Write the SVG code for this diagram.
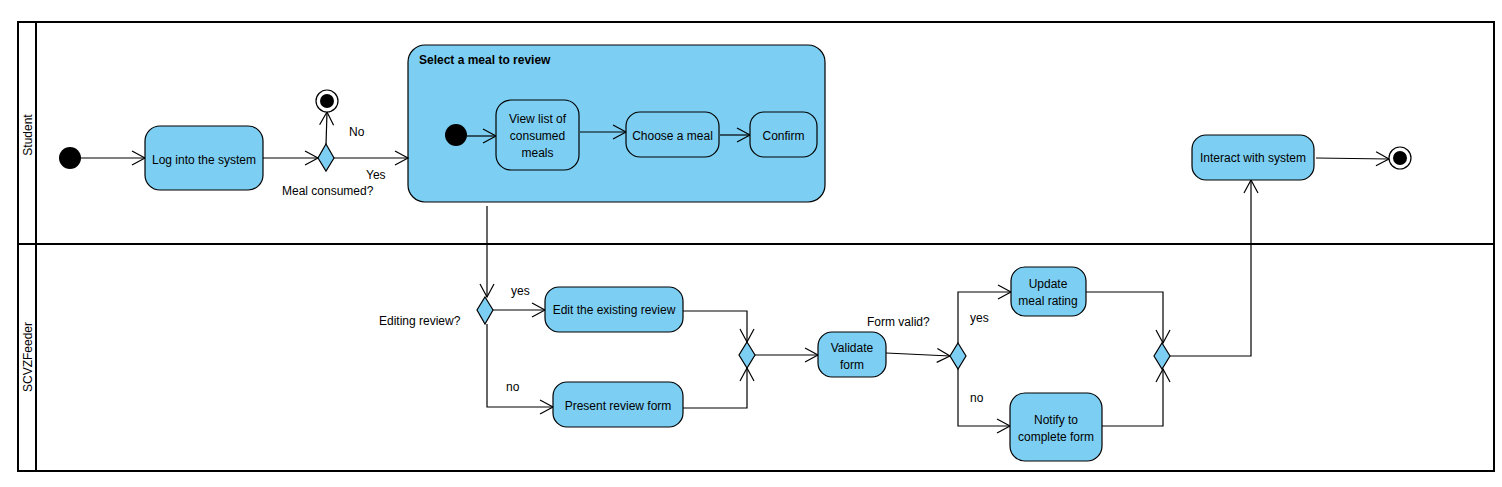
<svg xmlns="http://www.w3.org/2000/svg" width="1502" height="487" viewBox="0 0 1502 487">
<style>
.n{fill:#7ccff3;stroke:#000;stroke-width:1.2}
.t{font-family:"Liberation Sans",Arial,sans-serif;font-size:12px;fill:#000}
.c{text-anchor:middle}
.b{font-weight:bold}
.e{fill:none;stroke:#000;stroke-width:1.2}
.lane{fill:none;stroke:#000;stroke-width:2}
</style>
<defs>
<marker id="a" markerUnits="userSpaceOnUse" markerWidth="16" markerHeight="16" refX="13" refY="7" orient="auto" overflow="visible">
<path d="M0,0 L13,7 L0,14" fill="none" stroke="#000" stroke-width="1.2"/>
</marker>
</defs>
<rect width="1502" height="487" fill="#fff"/>
<g id="lanes">
<rect class="lane" x="18" y="22" width="1476" height="449"/>
<line class="lane" x1="36" y1="22" x2="36" y2="471" stroke-width="2.5"/>
<line class="lane" x1="18" y1="244" x2="1494" y2="244" stroke-width="2.5"/>
<text class="t c" transform="translate(32,135) rotate(-90)">Student</text>
<text class="t c" transform="translate(32,357) rotate(-90)">SCVZFeeder</text>
</g>
<g id="select">
<rect class="n" x="408" y="45" width="417" height="157" rx="17"/>
<text class="t b" x="419" y="64">Select a meal to review</text>
</g>
<g id="connectors">
<line class="e" x1="81" y1="158" x2="145" y2="158" marker-end="url(#a)"/>
<line class="e" x1="263" y1="158" x2="318" y2="158" marker-end="url(#a)"/>
<line class="e" x1="326" y1="145" x2="327" y2="112" marker-end="url(#a)"/>
<line class="e" x1="334" y1="158" x2="408" y2="158" marker-end="url(#a)"/>
<line class="e" x1="467" y1="136" x2="496" y2="136" marker-end="url(#a)"/>
<line class="e" x1="580" y1="132" x2="626" y2="132" marker-end="url(#a)"/>
<line class="e" x1="720" y1="135" x2="750" y2="135" marker-end="url(#a)"/>
<polyline class="e" points="487,206 487,297" marker-end="url(#a)"/>
<line class="e" x1="493" y1="310" x2="545" y2="310" marker-end="url(#a)"/>
<polyline class="e" points="487,324 487,407 553,407" marker-end="url(#a)"/>
<polyline class="e" points="683,311 747,311 747,342" marker-end="url(#a)"/>
<polyline class="e" points="683,408 747,408 747,368" marker-end="url(#a)"/>
<line class="e" x1="755" y1="355" x2="818" y2="355" marker-end="url(#a)"/>
<line class="e" x1="886" y1="353" x2="950" y2="356" marker-end="url(#a)"/>
<polyline class="e" points="958,343 958,292 1011,292" marker-end="url(#a)"/>
<polyline class="e" points="958,369 958,426 1010,426" marker-end="url(#a)"/>
<polyline class="e" points="1086,292 1163,292 1163,343" marker-end="url(#a)"/>
<polyline class="e" points="1102,426 1163,426 1163,369" marker-end="url(#a)"/>
<polyline class="e" points="1170,356 1251,356 1251,180" marker-end="url(#a)"/>
<line class="e" x1="1316" y1="158" x2="1389" y2="159" marker-end="url(#a)"/>
</g>
<g id="start1"><circle cx="70" cy="158" r="11" fill="#000"/></g>
<g id="login">
<rect class="n" x="145" y="126" width="118" height="64" rx="15"/>
<text class="t c" x="204" y="164">Log into the system</text>
</g>
<g id="dec1">
<polygon class="n" points="326,144 334,158 326,171 318,158"/>
<text class="t" x="349" y="136">No</text>
<text class="t" x="366" y="179">Yes</text>
<text class="t" x="282" y="195">Meal consumed?</text>
</g>
<g id="end1">
<circle cx="327" cy="101" r="11" fill="#fff" stroke="#000" stroke-width="1.2"/>
<circle cx="327" cy="101" r="7" fill="#000"/>
</g>
<g id="start2"><circle cx="456" cy="135" r="11" fill="#000"/></g>
<g id="viewlist">
<rect class="n" x="496" y="100" width="83" height="70" rx="15"/>
<text class="t c" x="537.5" y="123">View list of</text>
<text class="t c" x="537.5" y="140">consumed</text>
<text class="t c" x="537.5" y="157">meals</text>
</g>
<g id="choose">
<rect class="n" x="626" y="112" width="93" height="45" rx="14"/>
<text class="t c" x="672.5" y="140">Choose a meal</text>
</g>
<g id="confirm">
<rect class="n" x="750" y="112" width="67" height="45" rx="14"/>
<text class="t c" x="783.5" y="140">Confirm</text>
</g>
<g id="interact">
<rect class="n" x="1192" y="135" width="122" height="45" rx="14"/>
<text class="t c" x="1253" y="162">Interact with system</text>
</g>
<g id="end2">
<circle cx="1400" cy="158" r="11" fill="#fff" stroke="#000" stroke-width="1.2"/>
<circle cx="1400" cy="158" r="7" fill="#000"/>
</g>
<g id="dec2">
<polygon class="n" points="485,297 493,310 485,324 477,310"/>
<text class="t" x="379" y="325">Editing review?</text>
<text class="t" x="511" y="295">yes</text>
<text class="t" x="506" y="391">no</text>
</g>
<g id="edit">
<rect class="n" x="545" y="287" width="138" height="45" rx="14"/>
<text class="t c" x="614" y="314">Edit the existing review</text>
</g>
<g id="present">
<rect class="n" x="553" y="382" width="130" height="45" rx="14"/>
<text class="t c" x="618" y="410">Present review form</text>
</g>
<g id="join1"><polygon class="n" points="747,342 755,355 747,368 739,355"/></g>
<g id="validate">
<rect class="n" x="818" y="332" width="68" height="45" rx="14"/>
<text class="t c" x="852" y="352">Validate</text>
<text class="t c" x="852" y="369">form</text>
</g>
<g id="dec3">
<polygon class="n" points="958,343 966,356 958,369 950,356"/>
<text class="t" x="867" y="326">Form valid?</text>
<text class="t" x="970" y="322">yes</text>
<text class="t" x="970" y="402">no</text>
</g>
<g id="update">
<rect class="n" x="1011" y="267" width="75" height="49" rx="14"/>
<text class="t c" x="1048" y="288">Update</text>
<text class="t c" x="1048" y="305">meal rating</text>
</g>
<g id="notify">
<rect class="n" x="1010" y="393" width="92" height="68" rx="15"/>
<text class="t c" x="1056" y="424">Notify to</text>
<text class="t c" x="1056" y="441">complete form</text>
</g>
<g id="join2"><polygon class="n" points="1162,343 1170,356 1162,369 1154,356"/></g>
</svg>
